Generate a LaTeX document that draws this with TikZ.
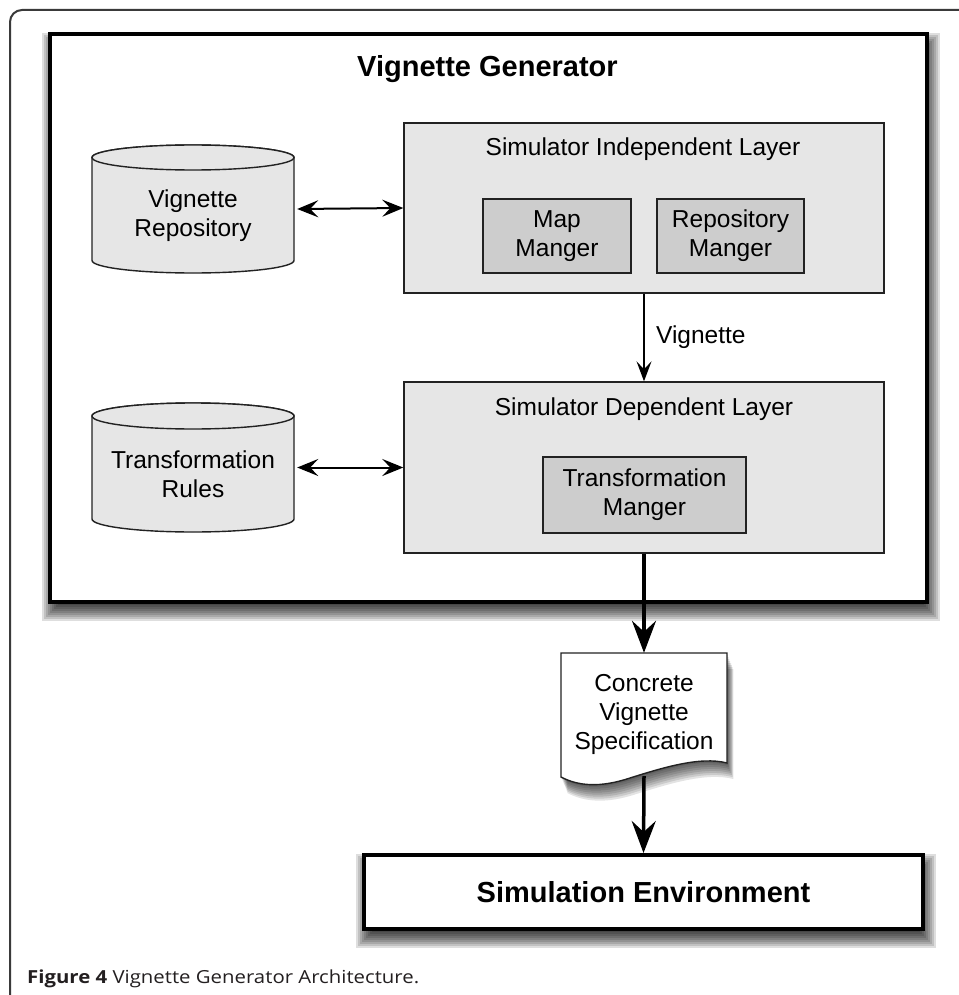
\documentclass[tikz,border=0pt]{standalone}
\usepackage{fontspec}
\usepackage{graphicx}
\setmainfont{Liberation Sans}
\newfontfamily\capfont{Open Sans}
\usetikzlibrary{arrows.meta}
\definecolor{layergray}{HTML}{E6E6E6}
\definecolor{innergray}{HTML}{CDCDCD}
\definecolor{capcol}{HTML}{231F20}
\definecolor{framecol}{HTML}{3A3A3A}
\definecolor{edgecol}{HTML}{222222}
\newcommand{\softshadow}[4]{%
  \foreach \r in {-10,-8,...,10}{%
    \fill[black, opacity=0.13] ({#1+2-\r},{#2+9-\r}) rectangle ({#3+3+\r},{#4+9+\r});
  }}
\newcommand{\docpath}{(561,653) -- (727,653) -- (727,763)
  .. controls (700,756) and (662,768) .. (630,778)
  .. controls (600,788) and (578,786) .. (561,777) -- cycle}
\begin{document}
\begin{tikzpicture}[x=1pt,y=-1pt,
  reg/.style={font=\fontsize{24.5}{29}\selectfont, align=center},
  boldt/.style={font=\fontsize{29}{34}\selectfont\bfseries},
  bigbox/.style={draw=black, line width=4pt, fill=white, inner sep=0pt},
  layer/.style={draw=edgecol, line width=1.4pt, fill=layergray, inner sep=0pt},
  innerbox/.style={draw=edgecol, line width=1.4pt, fill=innergray, inner sep=0pt, reg},
  cyl/.style={draw=edgecol, line width=1.4pt, fill=layergray},
  ghost/.style={inner sep=0pt},
  biarrow/.style={line width=2pt, {Stealth[length=21pt,width=17pt,inset=8pt]}-{Stealth[length=21pt,width=17pt,inset=8pt]}},
  onearrow/.style={line width=1.6pt, -{Stealth[length=20pt,width=15pt,inset=8pt]}},
  thickarrow/.style={line width=3.5pt, -{Stealth[length=32pt,width=24pt,inset=11pt]}},
]
\useasboundingbox (0,0) rectangle (958,995);
\fill[white] (0,0) rectangle (958,995);

% outer page frame
\draw[framecol, line width=2pt, rounded corners=12pt] (10,1010) -- (10,10) -- (975,10);

% shadows
\softshadow{50}{34}{927}{602}
\softshadow{364}{855}{923}{929}
\foreach \s in {1,2,...,8}{
  \fill[black, opacity=0.11, shift={(0.8*\s,2*\s)}] \docpath;
}

% Vignette Generator box
\node[bigbox, minimum width=877, minimum height=568] (vg) at (488.5,318) {};
\node[boldt, anchor=base] (vgtitle) at (487.5,77) {Vignette Generator};

% Simulator Independent Layer
\node[layer, minimum width=480, minimum height=170] (sil) at (644,208) {};
\node[reg, anchor=base] (siltitle) at (643,156) {Simulator Independent Layer};
\node[innerbox, minimum width=148, minimum height=74] (map) at (557,236) {Map\\Manger};
\node[innerbox, minimum width=147, minimum height=74] (repo) at (730.5,236) {Repository\\Manger};

% Simulator Dependent Layer
\node[layer, minimum width=480, minimum height=171] (sdl) at (644,467.5) {};
\node[reg, anchor=base] (sdltitle) at (644,415.5) {Simulator Dependent Layer};
\node[innerbox, minimum width=203, minimum height=76] (tm) at (644.5,495) {Transformation\\Manger};

% Vignette Repository cylinder
\draw[cyl] (92,157.5) -- (92,260.5) arc[start angle=180, end angle=0, x radius=101, y radius=12.5] -- (294,157.5) arc[start angle=0, end angle=-180, x radius=101, y radius=12.5] -- cycle;
\draw[cyl] (193,157.5) ellipse [x radius=101, y radius=12.5];
\node[ghost, minimum width=202, minimum height=128] (cylA) at (193,209) {};
\node[reg] (cylAtext) at (193,216) {Vignette\\Repository};

% Transformation Rules cylinder
\draw[cyl] (92,416) -- (92,519) arc[start angle=180, end angle=0, x radius=101, y radius=13] -- (294,416) arc[start angle=0, end angle=-180, x radius=101, y radius=13] -- cycle;
\draw[cyl] (193,416) ellipse [x radius=101, y radius=13];
\node[ghost, minimum width=202, minimum height=129] (cylB) at (193,467.5) {};
\node[reg] (cylBtext) at (193,474) {Transformation\\Rules};

% double arrows
\draw[biarrow] ([xshift=3pt]cylA.east) -- (sil.west);
\draw[biarrow] ([xshift=3pt]cylB.east) -- (sdl.west);

% Vignette arrow
\draw[onearrow] (sil.south) -- (sdl.north) node[midway, anchor=west, xshift=8pt, reg] (vlabel) {Vignette};

% document
\draw[draw=edgecol, line width=1.4pt, fill=white] \docpath;
\node[reg, ghost, minimum width=166, minimum height=123] (doc) at (644,714.5) {Concrete\\Vignette\\Specification};

% Simulation Environment
\node[bigbox, boldt, minimum width=559, minimum height=74] (se) at (643.5,892) {Simulation Environment};

% thick arrows
\draw[thickarrow] (sdl.south) -- (doc.north);
\draw[thickarrow] (doc.south) -- (se.north);

% caption
\node[anchor=base west, inner sep=0pt, text=capcol, font=\capfont\fontsize{18}{21}\selectfont] (caption) at (27,983) {\resizebox{392pt}{\height}{\textbf{Figure 4} Vignette Generator Architecture.}};
\end{tikzpicture}
\end{document}
